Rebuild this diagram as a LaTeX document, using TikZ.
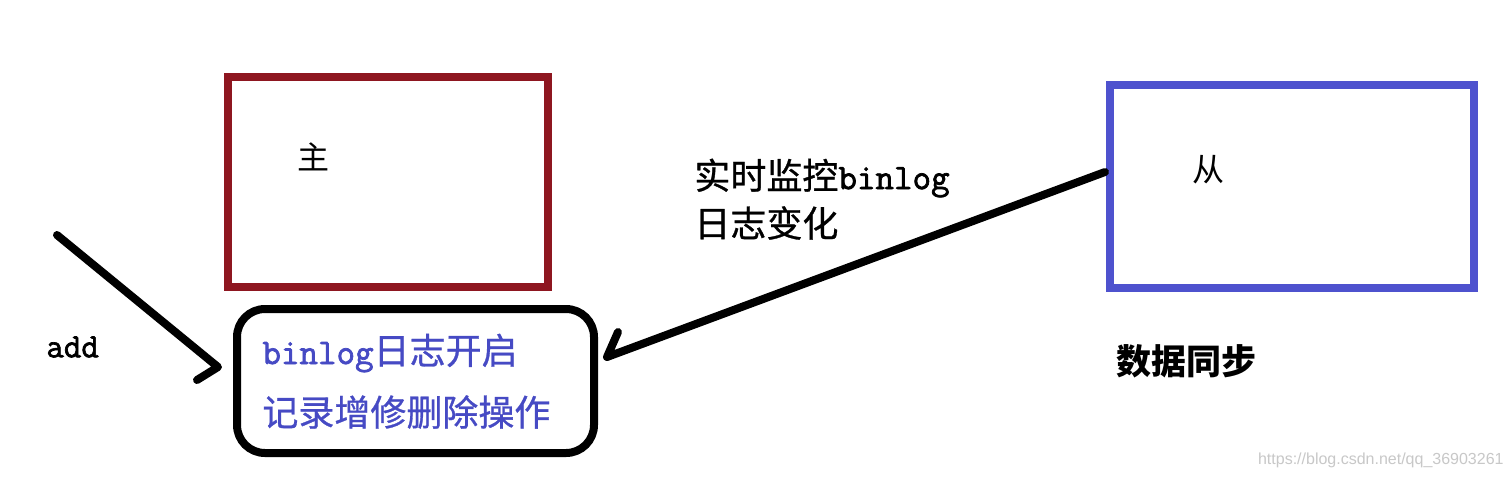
\documentclass[tikz,border=0pt]{standalone}
\usepackage{fontspec}
\newfontfamily\cjk{Noto Sans CJK SC}
\newfontfamily\cjkm{Noto Sans CJK SC}[FakeBold=0.8]
\newfontfamily\ttm{Latin Modern Mono}[FakeBold=2]
\newfontfamily\wmfont{Liberation Sans}
\definecolor{boxred}{RGB}{142,22,32}
\definecolor{boxblue}{RGB}{78,82,206}
\definecolor{txtblue}{RGB}{70,74,196}
\definecolor{wmgray}{RGB}{200,200,200}
\begin{document}
\begin{tikzpicture}[x=0.5pt,y=-0.5pt,
  frame/.style={draw, line width=4pt, inner sep=0pt},
  lbl/.style={font=\cjk\fontsize{16pt}{19pt}\selectfont, inner sep=0pt},
  big/.style={font=\cjkm\fontsize{18pt}{22pt}\selectfont, inner sep=0pt, anchor=west},
  conn/.style={line width=4pt, line cap=round, line join=round}]
\fill[white] (0,0) rectangle (1512,478);
\useasboundingbox (0,0) rectangle (1512,478);

% boxes
\node[frame, draw=boxred, minimum width=160pt, minimum height=105pt] (master) at (388,182) {};
\node[frame, draw=boxblue, minimum width=182pt, minimum height=101.5pt] (slave) at (1292,186.5) {};
\node[frame, draw=black, rounded corners=14pt, minimum width=178.5pt, minimum height=72pt] (binlog) at (415.5,381) {};

% labels in boxes
\node[lbl] (mlabel) at (313,157) {主};
\node[lbl] (slabel) at (1208,170) {从};
\node[big, text=txtblue] (bl1) at (262,353) {{\ttm binlog}日志开启};
\node[big, text=txtblue] (bl2) at (262,412) {记录增修删除操作};

% other texts
\node[big] (mon1) at (694,178) {实时监控{\ttm binlog}};
\node[big] (mon2) at (694,223) {日志变化};
\node[big, font=\cjk\bfseries\fontsize{17.5pt}{21pt}\selectfont] (sync) at (1116,361) {数据同步};
\node[font=\ttm\fontsize{17pt}{20pt}\selectfont, inner sep=0pt, anchor=west] (add) at (46,347) {add};
\node[font=\wmfont\fontsize{8pt}{10pt}\selectfont, text=wmgray, inner sep=0pt, anchor=east] (wm) at (1504,460) {https://blog.csdn.net/qq\_36903261};

% arrow: add
\coordinate (a1s) at (57,235);
\coordinate (a1t) at (218,367);
\coordinate (a1b) at (197,380);
\draw[conn] (a1s) -- (a1t) -- (a1b);

% arrow: slave -> binlog
\coordinate (a2s) at (1105,172);
\coordinate (a2t) at (607,357);
\coordinate (a2b) at (618,332);
\draw[conn] (a2s) -- (a2t) -- (a2b);
\end{tikzpicture}
\end{document}
